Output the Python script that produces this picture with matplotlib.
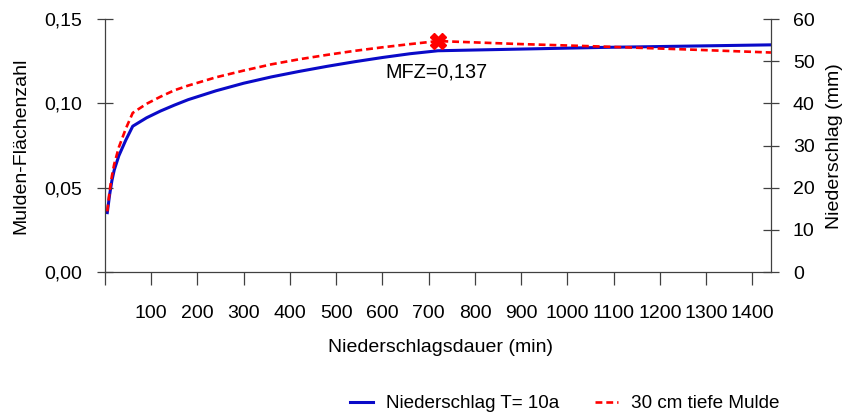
import numpy as np
import matplotlib.pyplot as plt
from matplotlib.ticker import FuncFormatter

plt.rcParams['font.family'] = ['Liberation Sans', 'DejaVu Sans']

# Niederschlagsdauer (min)
dauer = [5, 10, 15, 20, 30, 45, 60, 90, 120, 150, 180, 240, 300, 360, 420,
         480, 540, 600, 660, 720, 900, 1080, 1260, 1440]
# Niederschlag T = 10a (mm), rechte Achse
niederschlag = [14.1, 18.3, 21.7, 24.2, 27.6, 31.3, 34.6, 36.6, 38.2, 39.6,
                40.9, 43.0, 44.8, 46.3, 47.6, 48.8, 49.9, 50.9, 51.8, 52.5,
                52.9, 53.3, 53.6, 53.9]
# Mulden-Flächenzahl, 30 cm tiefe Mulde, linke Achse
mfz = [0.036, 0.048, 0.057, 0.064, 0.074, 0.085, 0.0944, 0.0998, 0.104,
       0.1078, 0.1106, 0.1155, 0.1195, 0.1232, 0.1262, 0.1288, 0.1312,
       0.1333, 0.1352, 0.137, 0.1352, 0.1337, 0.132, 0.1302]
mfz_max_dauer = 720
mfz_max = 0.137

xticks = list(range(0, 1401, 100))
xticklabels = [''] + [str(t) for t in xticks[1:]]

fs = 14
axcol = '#404040'

fig = plt.figure(figsize=(8.5, 4.16), dpi=100)
ax = fig.add_axes([0.1235, 0.346, 0.7835, 0.608])
ax2 = ax.twinx()

ax2.plot(dauer, niederschlag, color='#0a0ac8', lw=2.2, zorder=2,
         label='Niederschlag T= 10a')
ax.plot(dauer, mfz, color='#ff0000', lw=1.9, ls=(0, (2.6, 1.5)), zorder=3,
        label='30 cm tiefe Mulde')
ax.plot([mfz_max_dauer], [mfz_max], marker='X', color='#ff0000', ms=11,
        mec='#ff0000', zorder=4)
ax.text(607, 0.1185, 'MFZ=0,137', fontsize=14.3, va='center', ha='left')

ax.set_zorder(ax2.get_zorder() + 1)
ax.patch.set_visible(False)

ax.set_xlim(0, 1440)
ax.set_ylim(0, 0.15)
ax2.set_ylim(0, 60)
ax.set_yticks([0, 0.05, 0.10, 0.15])
ax.yaxis.set_major_formatter(FuncFormatter(lambda v, p: f'{v:.2f}'.replace('.', ',')))
ax2.set_yticks(range(0, 61, 10))
ax.set_xticks(xticks)
ax.set_xticklabels(xticklabels)

for a in (ax, ax2):
    for s in a.spines.values():
        s.set_color(axcol)
        s.set_linewidth(0.9)
    a.spines['top'].set_visible(False)
ax.spines['right'].set_visible(False)
ax2.spines['left'].set_visible(False)
ax2.spines['bottom'].set_visible(False)

ax.tick_params(axis='y', direction='inout', length=11.5, width=0.9,
               color=axcol, pad=11, labelsize=fs)
ax2.tick_params(axis='y', direction='inout', length=11.5, width=0.9,
                color=axcol, pad=10, labelsize=fs)
ax.tick_params(axis='x', direction='out', length=9.5, width=0.9,
               color=axcol, pad=14, labelsize=fs)

fig.text(0.024, 0.649, 'Mulden-Flächenzahl', rotation=90, fontsize=14,
         ha='center', va='center')
fig.text(0.982, 0.649, 'Niederschlag (mm)', rotation=90, fontsize=14,
         ha='center', va='center')
fig.text(0.518, 0.164, 'Niederschlagsdauer (min)', fontsize=14,
         ha='center', va='center')

h2, l2 = ax2.get_legend_handles_labels()
h1, l1 = ax.get_legend_handles_labels()
fig.legend(h2 + h1, l2 + l1, loc='center', bbox_to_anchor=(0.664, 0.03),
           ncol=2, frameon=False, fontsize=13.6, handlelength=1.25,
           handletextpad=0.65, columnspacing=1.9)

fig.savefig('out.png', dpi=100)
